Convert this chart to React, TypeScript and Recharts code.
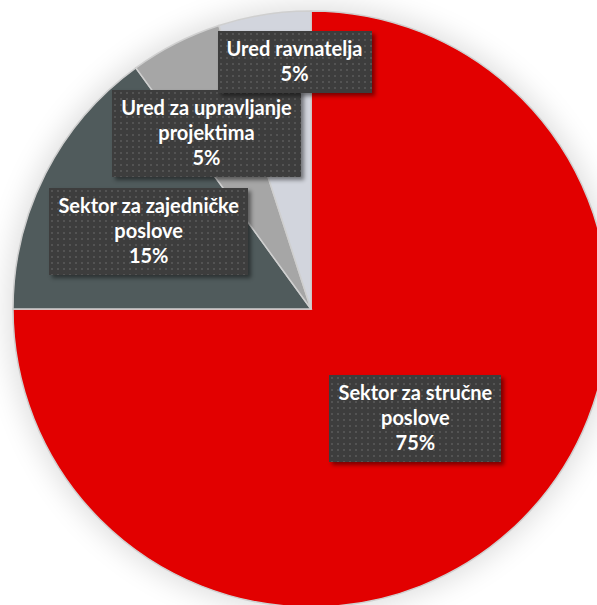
import { PieChart, Pie, Cell } from 'recharts';

const sectors = [
  'Sektor za stručne poslove',
  'Sektor za zajedničke poslove',
  'Ured za upravljanje projektima',
  'Ured ravnatelja',
];
const shares = [75, 15, 5, 5];
const colors = ['#E20000', '#505B5C', '#A6A6A6', '#D2D5DD'];

const data = sectors.map((name, i) => ({ name, value: shares[i] }));

const W = 597;
const H = 605;
const CX = 311;
const CY = 309;
const R = 298;

// hand-placed label spots (radius factor, angle nudge in deg)
const labelSpots = [
  { r: 0.507, a: -1.3 },
  { r: 0.604, a: 1.4 },
  { r: 0.685, a: 3.8 },
  { r: 0.832, a: -5.2 },
];

const RADIAN = Math.PI / 180;

function wrap(text: string, max: number) {
  const words = text.split(' ');
  const lines: string[] = [];
  let cur = '';
  words.forEach(w => {
    const next = cur ? cur + ' ' + w : w;
    if (next.length > max && cur) {
      lines.push(cur);
      cur = w;
    } else {
      cur = next;
    }
  });
  if (cur) lines.push(cur);
  return lines;
}

const renderLabel = (props: any) => {
  const { cx, cy, midAngle, outerRadius, index, name, percent } = props;
  const spot = labelSpots[index];
  const ang = (midAngle + spot.a) * RADIAN;
  const x = cx + outerRadius * spot.r * Math.cos(-ang);
  const y = cy + outerRadius * spot.r * Math.sin(-ang);
  const lines = [...wrap(name, 20), `${Math.round(percent * 100)}%`];
  return (
    <foreignObject x={x - 150} y={y - 70} width={300} height={140} key={`lbl-${index}`}>
      <div
        style={{
          width: 300,
          height: 140,
          display: 'flex',
          alignItems: 'center',
          justifyContent: 'center',
        }}
      >
        <div
          style={{
            padding: '5px 9px 7px',
            background:
              'radial-gradient(circle, #535353 0.8px, transparent 1.3px) 0 0 / 6px 6px, #3d3d3d',
            boxShadow: '3px 3px 4px rgba(0,0,0,0.45)',
            color: '#fff',
            fontFamily: 'Lato, "Open Sans", sans-serif',
            fontWeight: 700,
            fontSize: 20,
            lineHeight: '25px',
            textAlign: 'center',
            whiteSpace: 'nowrap',
          }}
        >
          {lines.map((l, i) => (
            <div key={i}>{l}</div>
          ))}
        </div>
      </div>
    </foreignObject>
  );
};

export default function App() {
  return (
    <div style={{ position: 'absolute', left: 0, top: 0, width: W, height: H, overflow: 'hidden', background: '#fff' }}>
      <div
        style={{
          position: 'absolute',
          left: CX - R,
          top: CY - R,
          width: R * 2,
          height: R * 2,
          borderRadius: '50%',
          boxShadow: '0 0 28px 6px rgba(0,0,0,0.13)',
        }}
      />
      <div style={{ position: 'absolute', left: 0, top: 0 }}>
        <PieChart width={W} height={H} margin={{ top: 0, right: 0, bottom: 0, left: 0 }}>
          <Pie
            data={data}
            dataKey="value"
            nameKey="name"
            cx={CX}
            cy={CY}
            outerRadius={R}
            startAngle={90}
            endAngle={-270}
            stroke="#cfcfcf"
            strokeWidth={1.5}
            label={renderLabel}
            labelLine={false}
            isAnimationActive={false}
          >
            {data.map((d, i) => (
              <Cell key={d.name} fill={colors[i]} />
            ))}
          </Pie>
        </PieChart>
      </div>
    </div>
  );
}
